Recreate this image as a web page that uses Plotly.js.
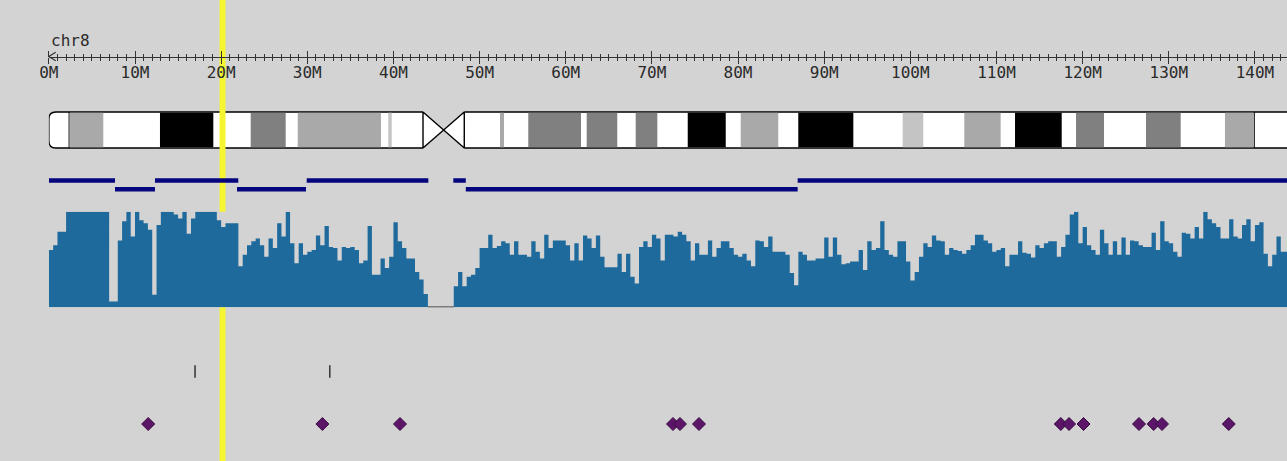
<!DOCTYPE html>
<html>
<head>
<meta charset="utf-8">
<script src="https://cdn.plot.ly/plotly-3.0.1.min.js"></script>
<style>
  html, body { margin: 0; padding: 0; background: #d3d3d3; }
  #chart { width: 1287px; height: 461px; }
</style>
</head>
<body>
<div id="chart"></div>
<script>
// ---------------- DATA ----------------
const chromName = 'chr8';
const chromLength = 146.36;           // Mb
const centromere = [43.43, 48.22];    // Mb (p-arm end, q-arm start)

// ruler ticks (Mb) and labels
const rulerTicks = [0, 10, 20, 30, 40, 50, 60, 70, 80, 90, 100, 110, 120, 130, 140];
const rulerLabels = ['0M', '10M', '20M', '30M', '40M', '50M', '60M', '70M', '80M', '90M', '100M', '110M', '120M', '130M', '140M'];

// cytobands (Mb)
const bandStart = [0, 2.37, 6.32, 12.90, 19.09, 23.43, 27.49, 28.89, 38.55, 39.40, 39.80,
  48.22, 52.37, 52.83, 55.65, 61.77, 62.43, 65.98, 68.12, 70.63, 74.16, 78.57, 80.31, 84.67,
  86.99, 93.38, 99.11, 101.50, 106.26, 110.48, 112.15, 117.57, 119.23, 122.48, 127.35, 131.38,
  136.52, 139.92];
const bandEnd = [2.37, 6.32, 12.90, 19.09, 23.43, 27.49, 28.89, 38.55, 39.40, 39.80, 43.43,
  52.37, 52.83, 55.65, 61.77, 62.43, 65.98, 68.12, 70.63, 74.16, 78.57, 80.31, 84.67, 86.99,
  93.38, 99.11, 101.50, 106.26, 110.48, 112.15, 117.57, 119.23, 122.48, 127.35, 131.38, 136.52,
  139.92, 146.36];
const bandStain = ['gneg', 'gpos50', 'gneg', 'gpos100', 'gneg', 'gpos75', 'gneg', 'gpos50', 'gneg', 'gpos25', 'gneg',
  'gneg', 'gpos50', 'gneg', 'gpos75', 'gneg', 'gpos75', 'gneg', 'gpos75', 'gneg', 'gpos100', 'gneg', 'gpos50', 'gneg',
  'gpos100', 'gneg', 'gpos25', 'gneg', 'gpos50', 'gneg', 'gpos100', 'gneg', 'gpos75', 'gneg', 'gpos75', 'gneg',
  'gpos50', 'gneg'];

// highlighted position (Mb)
const highlightPos = 20.16;

// copy-number segments (Mb) and state
const segStart = [0, 7.68, 12.32, 21.84, 29.93, 46.95, 48.40, 86.92];
const segEnd   = [7.68, 12.32, 21.99, 29.85, 44.05, 48.40, 86.92, 146.36];
const segState = [3, 2, 3, 2, 3, 3, 2, 3];

// coverage histogram, 0.5 Mb bins, percent of max
const binSize = 0.5;
const coverage = [
  60, 65, 79, 79, 100, 100, 100, 100, 100, 100, 100, 100, 100, 100,
  6, 6, 70, 90, 100, 74, 100, 91, 88, 81, 13, 86, 100,
  100, 100, 97, 93, 100, 77, 93, 100, 100, 100, 100, 100,
  91, 84, 88, 88, 88,
  43, 55, 65, 69, 72, 65, 53, 72, 62, 88, 74, 100, 67, 46, 67, 55, 58, 60, 75, 65, 85, 63, 62, 49, 63, 62, 63, 60,
  46, 49, 85, 34, 34, 51, 41, 53, 89, 69, 62, 51, 51, 37, 29, 14,
  0, 0, 0, 0, 0, 0,
  22, 37, 22, 32, 34, 41, 62, 62, 76, 62, 64, 69, 67, 55, 69, 55, 55, 53, 69, 58, 51, 76, 62, 70, 70,
  70, 65, 49, 67, 49, 75, 72, 62, 75, 53, 42, 42, 42, 56, 37, 56, 32, 25, 63, 69, 63, 76, 72, 49, 76,
  76, 74, 79, 76, 69, 49, 67, 55, 55, 70, 53, 62, 69, 69, 62, 55, 53, 56, 49, 43, 70, 69, 63, 74, 58,
  58, 58, 55, 36, 23, 58, 55, 49, 49, 51, 51, 73, 53, 73, 55, 45, 46, 48, 48, 60, 39, 69, 60, 62, 90,
  60, 55, 53, 69, 69, 48, 28, 37, 53, 67, 63, 75, 70, 69, 55, 62, 60, 59, 56, 60, 65, 76,
  76, 70, 67, 58, 60, 62, 43, 55, 55, 69, 57, 56, 52, 65, 62, 67, 69, 69, 53, 63, 76, 97, 100, 67, 84,
  65, 60, 55, 81, 67, 55, 69, 55, 73, 55, 70, 69, 65, 63, 63, 78, 60, 90, 69, 67, 58, 53, 78, 77, 72,
  84, 72, 100, 92, 88, 84, 72, 72, 92, 74, 72, 86, 92, 69, 86, 89, 56, 43, 55, 74, 58, 58
];

// single feature marks (Mb)
const featurePos = [16.97, 32.61];
// variant sites (Mb)
const variantPos = [11.53, 31.75, 40.76, 72.45, 73.26, 75.47, 117.46, 118.42, 120.10, 126.54, 128.24, 129.21, 136.96];

// ---------------- LAYOUT CONSTANTS ----------------
const W = 1287, H = 461;
const pxPerMb = 8.615;
const x0px = 48.85;
const xMax = (W - x0px) / pxPerMb;
const rulerY = 56.5;
const ideoTop = 112, ideoBot = 148;
const segY = {3: 180.5, 2: 189.3};
const covBase = 307.3, covTop = 211.7;
const featureY = 371.5, variantY = 424;
const bg = '#d3d3d3';

const stainColor = {gpos100: '#000000', gpos75: '#808080', gpos50: '#a9a9a9', gpos25: '#c4c4c4'};

// ---------------- TRACES ----------------
const traces = [];

// stained cytobands
const sIdx = bandStain.map((s, i) => i).filter(i => bandStain[i] !== 'gneg');
traces.push({
  type: 'bar', orientation: 'h', xaxis: 'x', yaxis: 'y',
  base: sIdx.map(i => bandStart[i]),
  x: sIdx.map(i => bandEnd[i] - bandStart[i]),
  y: sIdx.map(() => (ideoTop + ideoBot) / 2),
  width: (ideoBot - ideoTop) - 1.4,
  marker: {color: sIdx.map(i => stainColor[bandStain[i]]), line: {width: 0}},
  hoverinfo: 'skip'
});

// highlight line
traces.push({
  type: 'scatter', mode: 'lines', xaxis: 'x', yaxis: 'y',
  x: [highlightPos, highlightPos], y: [0, H],
  line: {color: '#f5f532', width: 6}, hoverinfo: 'skip'
});

// segments
const sx = [], sy = [];
segStart.forEach((s, i) => { sx.push(s, segEnd[i], null); sy.push(segY[segState[i]], segY[segState[i]], null); });
traces.push({
  type: 'scatter', mode: 'lines', xaxis: 'x', yaxis: 'y',
  x: sx, y: sy, line: {color: '#05057e', width: 4.5}, hoverinfo: 'skip'
});

// coverage histogram
const cx = coverage.map((v, i) => i * binSize).concat([coverage.length * binSize]);
const cy = coverage.concat([coverage[coverage.length - 1]]);
traces.push({
  type: 'scatter', mode: 'lines', xaxis: 'x', yaxis: 'y2',
  x: cx, y: cy, line: {shape: 'hv', width: 0, color: '#1f6a9c'},
  fill: 'tozeroy', fillcolor: '#1f6a9c', hoverinfo: 'skip'
});
// zero-coverage baseline
const zx = [], zy = [];
coverage.forEach((v, i) => { if (v === 0) { zx.push(i * binSize, (i + 1) * binSize, null); zy.push(0, 0, null); } });
traces.push({
  type: 'scatter', mode: 'lines', xaxis: 'x', yaxis: 'y2',
  x: zx, y: zy, line: {color: '#222222', width: 1.5}, hoverinfo: 'skip'
});

// feature ticks
traces.push({
  type: 'scatter', mode: 'markers', xaxis: 'x', yaxis: 'y',
  x: featurePos, y: featurePos.map(() => featureY),
  marker: {symbol: 'line-ns', size: 9, line: {color: '#333333', width: 1.5}},
  hoverinfo: 'skip'
});

// variant diamonds (on overlay axis x2 so the upper ruler ticks render)
traces.push({
  type: 'scatter', mode: 'markers', xaxis: 'x2', yaxis: 'y',
  x: variantPos, y: variantPos.map(() => variantY),
  marker: {symbol: 'diamond', size: 10, color: '#5b1667', line: {color: '#3a0a45', width: 1}},
  hoverinfo: 'skip'
});

// ---------------- SHAPES (ideogram) ----------------
const c0 = centromere[0], c1 = centromere[1], cm = (c0 + c1) / 2, yMid = (ideoTop + ideoBot) / 2;
const rX = 0.8, rY = 7;
const bodyPath =
  `M ${rX},${ideoTop} L ${c0},${ideoTop} L ${cm},${yMid} L ${c1},${ideoTop} L ${chromLength},${ideoTop} ` +
  `L ${chromLength},${ideoBot} L ${c1},${ideoBot} L ${cm},${yMid} L ${c0},${ideoBot} L ${rX},${ideoBot} ` +
  `Q 0,${ideoBot} 0,${ideoBot - rY} L 0,${ideoTop + rY} Q 0,${ideoTop} ${rX},${ideoTop} Z`;
const pEnd = bandEnd[0];            // telomere cap boundary
const qLast = bandStart[bandStart.length - 1];
const outlinePath =
  `M ${c0},${ideoTop} L ${rX},${ideoTop} Q 0,${ideoTop} 0,${ideoTop + rY} L 0,${ideoBot - rY} Q 0,${ideoBot} ${rX},${ideoBot} L ${c0},${ideoBot} ` +
  `M ${c0},${ideoTop} L ${c0},${ideoBot} M ${c0},${ideoTop} L ${c1},${ideoBot} M ${c0},${ideoBot} L ${c1},${ideoTop} ` +
  `M ${c1},${ideoTop} L ${c1},${ideoBot} M ${c1},${ideoTop} L ${chromLength},${ideoTop} M ${c1},${ideoBot} L ${chromLength},${ideoBot} ` +
  `M ${pEnd},${ideoTop} L ${pEnd},${ideoBot} M ${qLast},${ideoTop} L ${qLast},${ideoBot}`;

const shapes = [
  {type: 'path', xref: 'x', yref: 'y', layer: 'below', path: bodyPath, fillcolor: '#ffffff', line: {width: 0}},
  {type: 'path', xref: 'x', yref: 'y', layer: 'below', path: outlinePath, line: {color: '#000000', width: 1.4}},
  // ruler arrow head
  {type: 'path', xref: 'x', yref: 'y', layer: 'above', path: `M 0.8,${rulerY - 4.2} L 0,${rulerY} L 0.8,${rulerY + 4.2}`, line: {color: '#333333', width: 1.2}}
];

// ---------------- LAYOUT ----------------
const rulerPos = 1 - rulerY / H;
const xDom = [x0px / W, 1];
const tickFont = {family: 'DejaVu Sans Mono', size: 16, color: '#2a2a2a'};
const layout = {
  width: W, height: H,
  margin: {l: 0, r: 0, t: 0, b: 0, pad: 0},
  paper_bgcolor: bg, plot_bgcolor: bg,
  showlegend: false, hovermode: false,
  xaxis: {
    domain: xDom, range: [0, xMax], anchor: 'free', position: rulerPos, side: 'bottom',
    showgrid: false, zeroline: false, showline: true, linecolor: '#333333', linewidth: 1,
    tickmode: 'array', tickvals: rulerTicks, ticktext: rulerLabels,
    ticks: 'outside', ticklen: 6, tickwidth: 1, tickcolor: '#333333',
    tickfont: tickFont, ticklabelstandoff: -5,
    minor: {tickmode: 'linear', tick0: 0, dtick: 1, ticks: 'outside', ticklen: 3, tickwidth: 1, tickcolor: '#333333', showgrid: false},
    fixedrange: true
  },
  xaxis2: {
    domain: xDom, range: [0, xMax], overlaying: 'x', anchor: 'free', position: rulerPos, side: 'top',
    showgrid: false, zeroline: false, showline: false, showticklabels: false,
    tickmode: 'array', tickvals: rulerTicks,
    ticks: 'outside', ticklen: 6, tickwidth: 1, tickcolor: '#333333',
    minor: {tickmode: 'linear', tick0: 0, dtick: 1, ticks: 'outside', ticklen: 3, tickwidth: 1, tickcolor: '#333333', showgrid: false},
    fixedrange: true
  },
  yaxis: {domain: [0, 1], range: [H, 0], visible: false, anchor: 'x', fixedrange: true},
  yaxis2: {domain: [1 - covBase / H, 1 - covTop / H], range: [0, 100], visible: false, anchor: 'x', fixedrange: true},
  shapes: shapes,
  annotations: [{
    text: chromName, xref: 'paper', yref: 'paper', x: 49 / W, y: 1 - 41 / H,
    xanchor: 'left', yanchor: 'middle', showarrow: false,
    font: {family: 'DejaVu Sans Mono', size: 16, color: '#2a2a2a'}
  }]
};

Plotly.newPlot('chart', traces, layout, {staticPlot: true, displayModeBar: false});
</script>
</body>
</html>
